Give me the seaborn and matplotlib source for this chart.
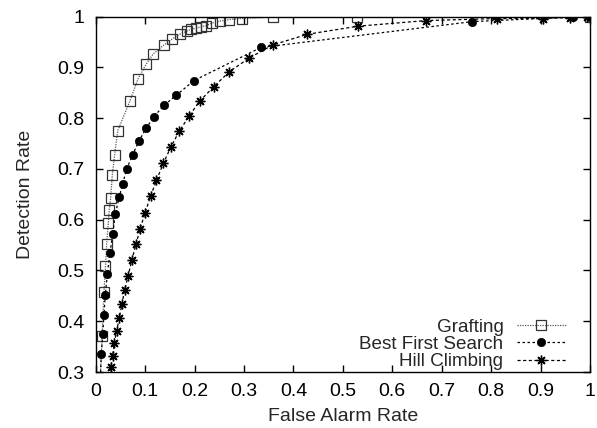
import numpy as np
import pandas as pd
import seaborn as sns
from matplotlib import pyplot as plt
from matplotlib.ticker import FormatStrFormatter, MultipleLocator

# ROC points (false alarm rate, detection rate)
graft_fa = [0.009, 0.0128, 0.0168, 0.0198, 0.0222, 0.0255, 0.0275, 0.0303, 0.0336, 0.0384,
            0.0445, 0.0694, 0.0855, 0.102, 0.116, 0.138, 0.155, 0.170, 0.184, 0.193,
            0.203, 0.214, 0.223, 0.235, 0.251, 0.270, 0.295, 0.358, 0.528, 1.0]
graft_dr = [0.28, 0.370, 0.457, 0.509, 0.552, 0.594, 0.620, 0.643, 0.688, 0.728,
            0.775, 0.834, 0.877, 0.906, 0.926, 0.944, 0.956, 0.965, 0.971, 0.975,
            0.977, 0.980, 0.982, 0.987, 0.991, 0.994, 0.996, 0.999, 1.0, 1.0]

bfs_fa = [0.009, 0.0113, 0.0142, 0.0168, 0.0194, 0.0235, 0.0289, 0.0344, 0.0396, 0.0477,
          0.0546, 0.0627, 0.0748, 0.0876, 0.102, 0.118, 0.138, 0.163, 0.199, 0.334,
          0.762, 0.965, 1.0]
bfs_dr = [0.28, 0.336, 0.374, 0.413, 0.452, 0.493, 0.534, 0.572, 0.611, 0.645,
          0.671, 0.700, 0.728, 0.755, 0.780, 0.803, 0.825, 0.845, 0.874, 0.939,
          0.990, 0.999, 1.0]

hill_fa = [0.026, 0.0303, 0.0344, 0.0374, 0.0425, 0.0477, 0.0532, 0.0586, 0.0657, 0.0730,
           0.0815, 0.090, 0.0997, 0.111, 0.123, 0.137, 0.152, 0.169, 0.189, 0.210,
           0.239, 0.270, 0.310, 0.358, 0.428, 0.531, 0.668, 0.811, 0.905, 0.959, 0.993]
hill_dr = [0.28, 0.309, 0.332, 0.357, 0.381, 0.407, 0.434, 0.462, 0.490, 0.520,
           0.552, 0.582, 0.613, 0.646, 0.678, 0.711, 0.743, 0.774, 0.804, 0.833,
           0.862, 0.891, 0.918, 0.944, 0.965, 0.981, 0.992, 0.996, 0.996, 0.998, 1.0]

FS = 14

sns.set_theme(style="ticks")
plt.rcParams['font.family'] = ['Liberation Sans', 'DejaVu Sans']

fig = plt.figure(figsize=(5.97, 4.28), dpi=100)
ax = fig.add_axes([0.1603, 0.1308, 0.828, 0.8306])

series = [
    ("Grafting", graft_fa, graft_dr, dict(marker='s', markersize=6.5, markerfacecolor='none',
                                          markeredgecolor='0.2', markeredgewidth=0.9,
                                          linestyle=(0, (1, 1)), color='0.35')),
    ("Best First Search", bfs_fa, bfs_dr, dict(marker='o', markersize=6, markerfacecolor='black',
                                               markeredgecolor='black', markeredgewidth=0.5,
                                               linestyle=(0, (2, 2)), color='black')),
    ("Hill Climbing", hill_fa, hill_dr, dict(marker=(8, 2, 0), markersize=7, markerfacecolor='black',
                                             markeredgecolor='black', markeredgewidth=1.0,
                                             linestyle=(0, (2.5, 2)), color='black')),
]

for name, fa, dr, style in series:
    df = pd.DataFrame({"fa": fa, "dr": dr})
    sns.lineplot(data=df, x="fa", y="dr", ax=ax, label=name, estimator=None, sort=False,
                 linewidth=0.9, **style)

ax.set_xlim(0, 1)
ax.set_ylim(0.3, 1)
ax.xaxis.set_major_locator(MultipleLocator(0.1))
ax.yaxis.set_major_locator(MultipleLocator(0.1))
ax.xaxis.set_major_formatter(FormatStrFormatter('%g'))
ax.yaxis.set_major_formatter(FormatStrFormatter('%g'))
ax.tick_params(direction='in', length=5, width=1.0, top=True, right=True,
               labelsize=FS, colors='black', pad=8)
for sp in ax.spines.values():
    sp.set_visible(True)
    sp.set_linewidth(1.0)
    sp.set_color('black')

ax.set_xlabel("False Alarm Rate", fontsize=FS, labelpad=6)
ax.set_ylabel("Detection Rate", fontsize=FS, labelpad=17)

ax.legend(loc='lower right', bbox_to_anchor=(0.951, 0.005), frameon=False, fontsize=13.6,
          markerfirst=False, handlelength=2.6, handletextpad=0.7, borderpad=0,
          borderaxespad=0, labelspacing=0)

fig.savefig("out.png", dpi=100)
